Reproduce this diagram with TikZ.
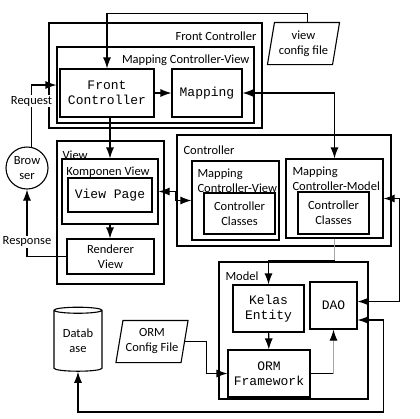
\documentclass[tikz,border=0pt]{standalone}
\usepackage{fontspec}
\setmainfont{Carlito}
\setmonofont{Liberation Mono}
\usetikzlibrary{arrows.meta,positioning,shapes.geometric}
\definecolor{lnk}{RGB}{165,165,165}

\begin{document}
\begin{tikzpicture}[x=1pt,y=-1pt,line width=1.1pt,>={Latex[length=11pt,width=8pt]},font=\fontsize{12.5}{15}\selectfont]
\tikzstyle{b}=[draw,inner sep=0pt,align=center]
\tikzstyle{t}=[b,font=\fontsize{13}{15}\selectfont\ttfamily]
\tikzstyle{l}=[inner sep=0pt,align=left]
\tikzstyle{cf}=[inner sep=0pt,align=center,minimum width=64pt,minimum height=41pt]
\useasboundingbox (0,0) rectangle (420,418);
% front controller
\node[b,minimum width=213pt,minimum height=105pt] (fco) at (155.5,75.5) {};
\node[l,anchor=east] (fcol) at (257,36) {Front Controller};
\node[b,minimum width=197pt,minimum height=76pt] (mcv) at (155.5,85) {};
\node[l,anchor=east] (mcvl) at (250,60) {Mapping Controller-View};
\node[t,minimum width=94pt,minimum height=48pt] (fc) at (107,93) {Front\\Controller};
\node[t,minimum width=70pt,minimum height=48pt] (map) at (207,93) {Mapping};
\node[cf] (vcf) at (303.5,43.5) {view\\config file};
\draw ([xshift=-3.5pt]vcf.south west) -- ([xshift=3.5pt]vcf.north west) -- ([xshift=3.5pt]vcf.north east) -- ([xshift=-3.5pt]vcf.south east) -- cycle;
\node[b,circle,minimum size=42pt] (br) at (27,168) {Brow\\ser};
% view
\node[b,minimum width=107pt,minimum height=143pt] (vw) at (110.5,212.5) {};
\node[l,anchor=west] (vwl) at (62,155) {View};
\node[b,minimum width=96pt,minimum height=65pt] (kv) at (110,191.5) {};
\node[l] (kvl) at (108,172) {Komponen View};
\node[t,minimum width=84pt,minimum height=34pt] (vp) at (110,195) {View Page};
\node[b,minimum width=87pt,minimum height=35pt] (rv) at (110.5,256.5) {Renderer\\View};
% controller
\node[b,minimum width=214pt,minimum height=111pt] (ct) at (284,190.5) {};
\node[l,anchor=west] (ctl) at (183,150) {Controller};
\node[b,minimum width=87pt,minimum height=79pt] (mcv2) at (235.5,200.5) {};
\node[l,anchor=west] (mcv2l) at (197,181) {Mapping\\Controller-View};
\node[b,minimum width=71pt,minimum height=41pt] (cc1) at (239.5,213.5) {Controller\\Classes};
\node[b,minimum width=97pt,minimum height=79pt] (mcm) at (334.5,198.5) {};
\node[l,anchor=west] (mcml) at (292,179) {Mapping\\Controller-Model};
\node[b,minimum width=71pt,minimum height=42pt] (cc2) at (333.5,213) {Controller\\Classes};
% model
\node[b,minimum width=149pt,minimum height=137pt] (md) at (293.5,330.5) {};
\node[l,anchor=west] (mdl) at (225,276) {Model};
\node[t,minimum width=71pt,minimum height=47pt] (ke) at (268.5,308.5) {Kelas\\Entity};
\node[t,minimum width=47pt,minimum height=47pt] (dao) at (333.5,305.5) {DAO};
\node[t,minimum width=82pt,minimum height=47pt] (orm) at (269,373.5) {ORM\\Framework};
\node[cf] (ocf) at (152,341.5) {ORM\\Config File};
\draw ([xshift=-3.5pt]ocf.south west) -- ([xshift=3.5pt]ocf.north west) -- ([xshift=3.5pt]ocf.north east) -- ([xshift=-3.5pt]ocf.south east) -- cycle;
\node[b,cylinder,shape border rotate=90,aspect=0.2,minimum width=48pt,minimum height=64pt] (db) at (78,341) {Datab\\ase};
% links
\draw[->] ([xshift=4pt]vcf.north) -- ++(0,-9) -| (fc.north);
\draw[->] (fc) -- (map);
\draw[<->] (mcm.north) |- (map.east);
\draw[->] (br.78) |- node[l,fill=white,inner sep=1pt,pos=0.37] (req) {Request} (mcv.west);
\draw[->] (rv.west) -| node[l,fill=white,inner sep=1pt,pos=0.61] (resp) {Response} (br.south);
\draw[->] (kv.north |- fc.south) -- (kv.north);
\draw[->] (kv.south) -- (kv.south |- rv.north);
\draw[<->] (kv.east) -- ++(17,0) |- (mcv2.west);
\draw[lnk] (mcm.south) -- ++(0,22) coordinate (k1);
\draw[->] (k1) -| (ke.north);
\draw[->] (ke) -- (orm);
\draw (orm.east) -- (orm.east -| dao.south) coordinate (k2);
\draw[-{Latex[length=11pt,width=8pt,color=black]},lnk] (k2) -- (dao.south);
\draw[->] (ocf.east) -- ++(21.5,0) |- (orm.west);
\draw[<->] (mcm.east) -- ++(16,0) |- ([yshift=4pt]dao.east);
\draw[<->] ([yshift=-14.5pt]dao.east) -- ++(26,0) -- ++(0,92) -| (db.south);
\end{tikzpicture}
\end{document}
